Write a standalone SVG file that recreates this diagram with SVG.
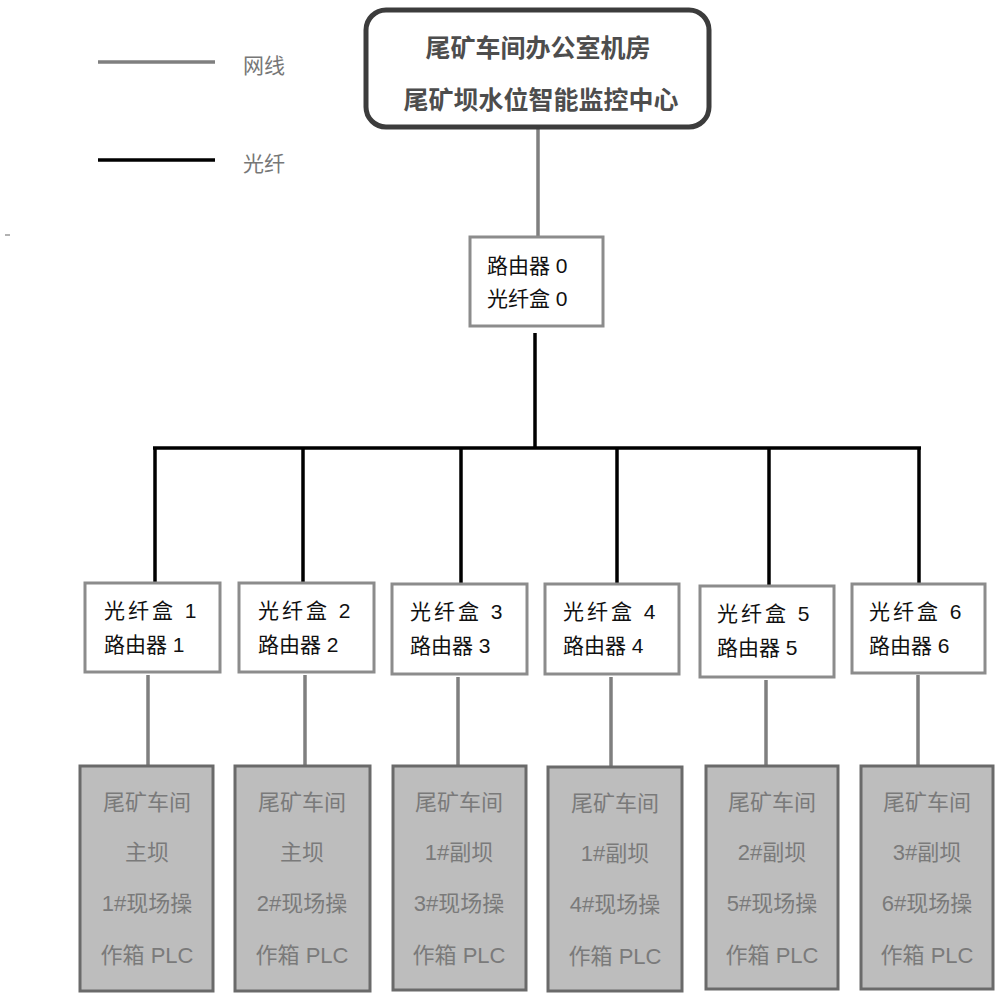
<svg xmlns="http://www.w3.org/2000/svg" width="1000" height="999" viewBox="0 0 1000 999">
<style>
.t{font-family:"Liberation Sans","Noto Sans CJK SC",sans-serif;}
.top{font-size:25px;font-weight:bold;fill:#4d4d4d;text-anchor:middle;}
.mid{font-size:21px;fill:#111;}
.bot{font-size:22px;fill:#7a7a7a;text-anchor:middle;}
.leg{font-size:21px;fill:#777;}
.box{fill:#fff;stroke:#8c8c8c;stroke-width:3;}
.gbox{fill:#bdbdbd;stroke:#6a6a6a;stroke-width:3;}
.net{stroke:#7f7f7f;stroke-width:3.5;fill:none;}
.fib{stroke:#000;stroke-width:3.5;fill:none;}
</style>
<rect width="1000" height="999" fill="#fff"/>
<g id="legend">
<line x1="98" y1="62" x2="215" y2="62" class="net"/>
<text x="243" y="73" class="t leg">网线</text>
<line x1="98" y1="160" x2="215" y2="160" class="fib" stroke-width="4"/>
<text x="243" y="171" class="t leg">光纤</text>
<line x1="5" y1="235" x2="10" y2="235" stroke="#999" stroke-width="1.5"/>
</g>
<g id="connectors">
<line x1="538" y1="128" x2="538" y2="237" class="net"/>
<line x1="535" y1="333" x2="535" y2="448" class="fib"/>
<line x1="153" y1="448" x2="921" y2="448" class="fib"/>
<line x1="155" y1="448" x2="155" y2="583" class="fib"/>
<line x1="303" y1="448" x2="303" y2="583" class="fib"/>
<line x1="461" y1="448" x2="461" y2="583" class="fib"/>
<line x1="617" y1="448" x2="617" y2="583" class="fib"/>
<line x1="769" y1="448" x2="769" y2="585" class="fib"/>
<line x1="919" y1="448" x2="919" y2="583" class="fib"/>
<line x1="148" y1="675" x2="148" y2="766" class="net"/>
<line x1="305" y1="675" x2="305" y2="766" class="net"/>
<line x1="458" y1="677" x2="458" y2="766" class="net"/>
<line x1="611" y1="677" x2="611" y2="767" class="net"/>
<line x1="766" y1="680" x2="766" y2="766" class="net"/>
<line x1="918" y1="675" x2="918" y2="766" class="net"/>
</g>
<g id="center">
<rect x="366" y="10" width="343" height="117" rx="20" fill="#fff" stroke="#3c3c3c" stroke-width="5"/>
<text x="538" y="57" class="t top">尾矿车间办公室机房</text>
<text x="541" y="109" class="t top">尾矿坝水位智能监控中心</text>
</g>
<g id="router0">
<rect x="470" y="237" width="133" height="89" class="box"/>
<text x="487" y="273" class="t mid">路由器 0</text>
<text x="487" y="306" class="t mid">光纤盒 0</text>
</g>
<g id="box1">
<rect x="85" y="583" width="135" height="89" class="box"/>
<text x="104" y="618" class="t mid" letter-spacing="3">光纤盒 1</text>
<text x="104" y="652" class="t mid">路由器 1</text>
</g>
<g id="box2">
<rect x="239" y="583" width="135" height="89" class="box"/>
<text x="258" y="618" class="t mid" letter-spacing="3">光纤盒 2</text>
<text x="258" y="652" class="t mid">路由器 2</text>
</g>
<g id="box3">
<rect x="392" y="584" width="135" height="90" class="box"/>
<text x="410" y="619" class="t mid" letter-spacing="3">光纤盒 3</text>
<text x="410" y="653" class="t mid">路由器 3</text>
</g>
<g id="box4">
<rect x="545" y="584" width="134" height="90" class="box"/>
<text x="563" y="619" class="t mid" letter-spacing="3">光纤盒 4</text>
<text x="563" y="653" class="t mid">路由器 4</text>
</g>
<g id="box5">
<rect x="700" y="586" width="134" height="91" class="box"/>
<text x="717" y="621" class="t mid" letter-spacing="3">光纤盒 5</text>
<text x="717" y="655" class="t mid">路由器 5</text>
</g>
<g id="box6">
<rect x="852" y="584" width="133" height="89" class="box"/>
<text x="869" y="619" class="t mid" letter-spacing="3">光纤盒 6</text>
<text x="869" y="653" class="t mid">路由器 6</text>
</g>
<g id="plc1">
<rect x="80" y="766" width="133" height="225" class="gbox"/>
<text x="147" y="810" class="t bot">尾矿车间</text>
<text x="147" y="860" class="t bot">主坝</text>
<text x="147" y="911" class="t bot">1#现场操</text>
<text x="147" y="963" class="t bot">作箱 PLC</text>
</g>
<g id="plc2">
<rect x="235" y="766" width="135" height="225" class="gbox"/>
<text x="302" y="810" class="t bot">尾矿车间</text>
<text x="302" y="860" class="t bot">主坝</text>
<text x="302" y="911" class="t bot">2#现场操</text>
<text x="302" y="963" class="t bot">作箱 PLC</text>
</g>
<g id="plc3">
<rect x="393" y="766" width="133" height="224" class="gbox"/>
<text x="459" y="810" class="t bot">尾矿车间</text>
<text x="459" y="860" class="t bot">1#副坝</text>
<text x="459" y="911" class="t bot">3#现场操</text>
<text x="459" y="963" class="t bot">作箱 PLC</text>
</g>
<g id="plc4">
<rect x="548" y="767" width="134" height="224" class="gbox"/>
<text x="615" y="811" class="t bot">尾矿车间</text>
<text x="615" y="861" class="t bot">1#副坝</text>
<text x="615" y="912" class="t bot">4#现场操</text>
<text x="615" y="964" class="t bot">作箱 PLC</text>
</g>
<g id="plc5">
<rect x="706" y="766" width="132" height="223" class="gbox"/>
<text x="772" y="810" class="t bot">尾矿车间</text>
<text x="772" y="860" class="t bot">2#副坝</text>
<text x="772" y="911" class="t bot">5#现场操</text>
<text x="772" y="963" class="t bot">作箱 PLC</text>
</g>
<g id="plc6">
<rect x="861" y="766" width="132" height="223" class="gbox"/>
<text x="927" y="810" class="t bot">尾矿车间</text>
<text x="927" y="860" class="t bot">3#副坝</text>
<text x="927" y="911" class="t bot">6#现场操</text>
<text x="927" y="963" class="t bot">作箱 PLC</text>
</g>
</svg>
